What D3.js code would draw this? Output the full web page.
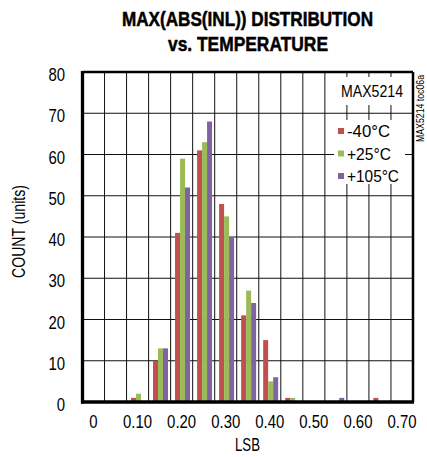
<!DOCTYPE html>
<html><head><meta charset="utf-8">
<script src="https://cdn.jsdelivr.net/npm/d3@7"></script>
<style>body{margin:0;background:#fff}svg{display:block}</style>
</head><body>
<script>
const bins = ["0","0.05","0.10","0.15","0.20","0.25","0.30","0.35","0.40","0.45","0.50","0.55","0.60","0.65","0.70"];
const xTickLabels = ["0","0.10","0.20","0.30","0.40","0.50","0.60","0.70"];
const seriesNames = ["-40°C","+25°C","+105°C"];
const seriesColors = ["#C0504D","#9BBB59","#8064A2"];
const countM40 = [0,0,1,10,41,61,48,21,15,1,0,0,0,1,0];
const countP25 = [0,0,2,13,59,63,45,27,5,1,0,0,0,0,0];
const countP105 = [0,0,0,13,52,68,40,24,6,0,0,1,0,0,0];
const yTicks = [0,10,20,30,40,50,60,70,80];

const W=427,H=457;
const F="'Liberation Sans',Arial,sans-serif";
const SX=0.83;
const svg=d3.select("body").append("svg").attr("width",W).attr("height",H);
const L=82.5,R=413,T=72,B=402;
const x=d3.scaleBand().domain(bins).range([L,R]).padding(0);
const bw=x.bandwidth();
const xs=d3.scaleBand().domain(seriesNames).range([bw*0.2,bw*0.88]).padding(0);
const y=d3.scaleLinear().domain([0,80]).range([B,T]);

// grid
const g=svg.append("g");
g.selectAll("line.h").data(yTicks.filter(v=>v>0&&v<80)).join("line")
 .attr("x1",L).attr("x2",R).attr("y1",d=>y(d)).attr("y2",d=>y(d)).attr("stroke","#111").attr("stroke-width",1);
g.selectAll("line.v").data(bins.slice(1)).join("line")
 .attr("x1",d=>x(d)).attr("x2",d=>x(d)).attr("y1",T).attr("y2",B).attr("stroke","#111").attr("stroke-width",1);

// legend backgrounds
svg.append("rect").attr("x",335).attr("y",77).attr("width",70).attr("height",28).attr("fill","#fff");
svg.append("rect").attr("x",334).attr("y",120).attr("width",71).attr("height",64).attr("fill","#fff");

// bars
const data=[countM40,countP25,countP105];
data.forEach((arr,si)=>{
  svg.append("g").selectAll("rect").data(arr.map((v,i)=>({b:bins[i],v}))).join("rect")
   .attr("x",d=>x(d.b)+xs(seriesNames[si])).attr("width",xs.bandwidth())
   .attr("y",d=>y(d.v)).attr("height",d=>B-y(d.v)).attr("fill",seriesColors[si]);
});

// frame
svg.append("line").attr("x1",L).attr("x2",R).attr("y1",T).attr("y2",T).attr("stroke","#000").attr("stroke-width",2.5);
svg.append("line").attr("x1",R).attr("x2",R).attr("y1",T).attr("y2",B).attr("stroke","#000").attr("stroke-width",2.5);
svg.append("line").attr("x1",L).attr("x2",L).attr("y1",T-1).attr("y2",B+1.5).attr("stroke","#000").attr("stroke-width",3.3);
svg.append("line").attr("x1",L-1.5).attr("x2",R+1).attr("y1",B).attr("y2",B).attr("stroke","#000").attr("stroke-width",3.3);

// y axis
const yAxis=d3.axisLeft(y).tickValues(yTicks).tickSize(0).tickPadding(0).tickFormat(d3.format("d"));
const ya=svg.append("g").attr("transform",`translate(65,1)`).call(yAxis);
ya.select(".domain").remove();
ya.selectAll("text").attr("font-family",F).attr("font-size",18).attr("fill","#000").attr("dy","0.42em").attr("transform",`scale(${SX},1)`);

// x axis
const xAxis=d3.axisBottom(x).tickValues(xTickLabels).tickSize(0).tickPadding(0);
const xa=svg.append("g").attr("transform",`translate(0,428)`).call(xAxis);
xa.select(".domain").remove();
xa.selectAll("text").attr("font-family",F).attr("font-size",18).attr("fill","#000").attr("y",0).attr("dy",0).attr("transform",`scale(${SX},1)`);

// titles
function txt(x0,y0,s,size,len,opts={}){
  const t=svg.append("text").attr("x",x0).attr("y",y0).attr("font-family",F).attr("font-size",size)
   .attr("textLength",len).attr("lengthAdjust","spacingAndGlyphs").text(s);
  if(opts.bold) t.attr("font-weight","bold").attr("stroke","#000").attr("stroke-width",0.5);
  if(opts.rot) t.attr("transform",`rotate(-90,${x0},${y0})`);
  return t;
}
txt(122,26,"MAX(ABS(INL)) DISTRIBUTION",20.5,251,{bold:true});
txt(168,51,"vs. TEMPERATURE",20.5,160,{bold:true});
txt(235,451,"LSB",18,25);
txt(25,278,"COUNT (units)",18,93,{rot:true});
txt(424,142,"MAX5214 toc06a",10.5,67,{rot:true});

// legend
txt(341,97,"MAX5214",17,62);
const lg=svg.append("g").selectAll("g").data(seriesNames).join("g").attr("transform",(d,i)=>`translate(338,${131+i*22.5})`);
lg.append("rect").attr("x",0).attr("y",-3).attr("width",6).attr("height",6).attr("fill",(d,i)=>seriesColors[i]);
const legLens=[43,44,52];
lg.append("text").attr("x",9).attr("y",6).attr("font-family",F).attr("font-size",16.5)
  .attr("textLength",(d,i)=>legLens[i]).attr("lengthAdjust","spacingAndGlyphs").text(d=>d);
</script>
</body></html>
